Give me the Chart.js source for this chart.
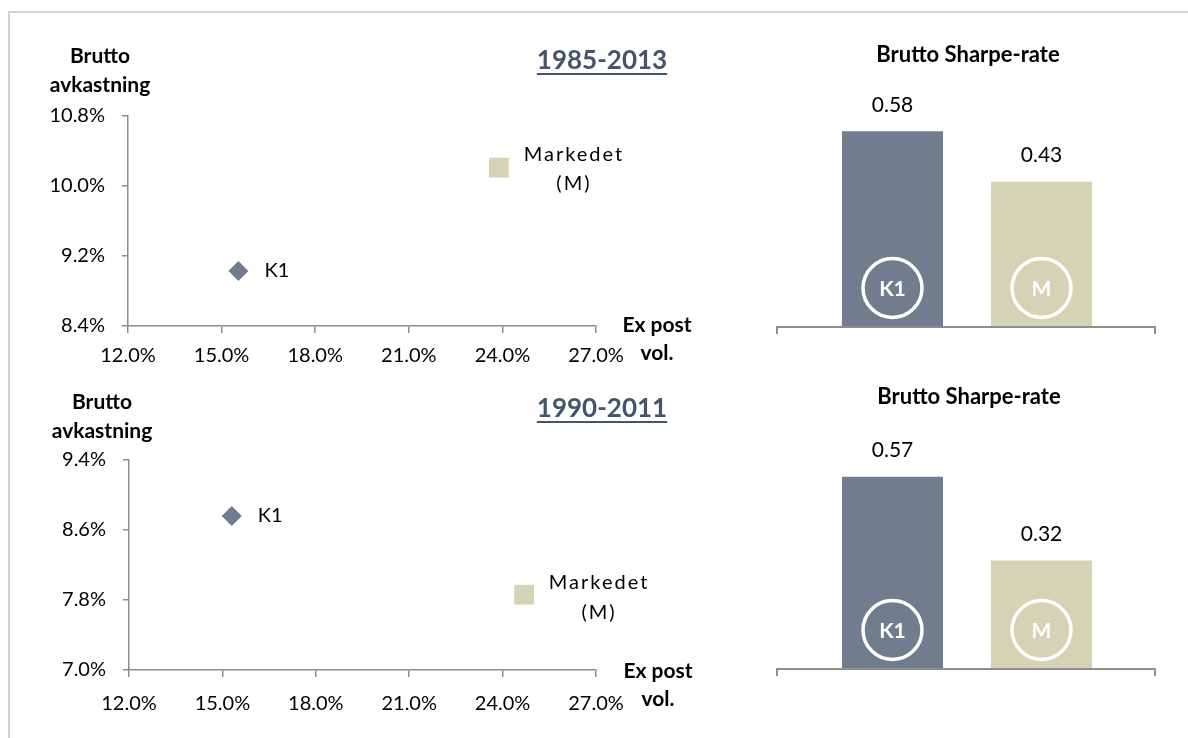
<!DOCTYPE html>
<html>
<head>
<meta charset="utf-8">
<script src="https://cdn.jsdelivr.net/npm/chart.js@4.4.0/dist/chart.umd.min.js"></script>
<style>
  html, body { margin: 0; padding: 0; background: #fff; }
  #wrap { position: relative; width: 1188px; height: 738px; overflow: hidden; }
  #frame { position: absolute; left: 8px; top: 11px; right: -4px; bottom: -4px;
           border-top: 2px solid #d2d2d2; border-left: 2px solid #d2d2d2; }
  canvas { position: absolute; }
</style>
</head>
<body>
<div id="wrap">
  <div id="frame"></div>
  <canvas id="scatter-top" width="720" height="370" style="left:0;top:0"></canvas>
  <canvas id="scatter-bottom" width="720" height="368" style="left:0;top:370px"></canvas>
  <canvas id="bar-top" width="448" height="370" style="left:740px;top:0"></canvas>
  <canvas id="bar-bottom" width="448" height="368" style="left:740px;top:370px"></canvas>
</div>
<script>
// data
const periods = ["1985-2013", "1990-2011"];
const k1Vol = [15.54, 15.30];
const k1Ret = [9.03, 8.76];
const mktVol = [23.89, 24.69];
const mktRet = [10.21, 7.86];
const retMin = [8.4, 7.0];
const retMax = [10.8, 9.4];
const volMin = 12, volMax = 27, volStep = 3, retStep = 0.8;
const k1Name = ["K1"];
const mktName = ["Markedet", "(M)"];
const sharpeLabels = ["K1", "M"];
const sharpeTop = [0.58, 0.43];
const sharpeBottom = [0.57, 0.32];

const K1_COLOR = "#717d8e";
const M_COLOR = "#d5d3b6";
const AXIS = "#8e8e8e";
const TITLE_COLOR = "#44546a";
const FONT = "Lato, Carlito, 'Open Sans', sans-serif";

Chart.defaults.font.family = FONT;
Chart.defaults.color = "#000";

const scatterText = {
  id: "scatterText",
  afterDraw(chart, args, o) {
    const ctx = chart.ctx;
    ctx.save();
    ctx.fillStyle = "#000";
    ctx.textBaseline = "middle";
    // point labels
    const k = chart.getDatasetMeta(0).data[0];
    ctx.font = "20px " + FONT;
    ctx.textAlign = "left";
    ctx.fillText(k1Name[0], k.x + 26, k.y);
    const m = chart.getDatasetMeta(1).data[0];
    ctx.textAlign = "center";
    ctx.letterSpacing = "2px";
    ctx.fillText(mktName[0], m.x + 75, m.y + o.mDy[0]);
    ctx.fillText(mktName[1], m.x + 75, m.y + o.mDy[1]);
    ctx.letterSpacing = "0px";
    // period title, underlined
    ctx.font = "bold 26px " + FONT;
    ctx.fillStyle = TITLE_COLOR;
    ctx.fillText(o.title, o.titleX, o.titleY);
    const w = ctx.measureText(o.title).width;
    ctx.fillRect(o.titleX - w / 2, o.titleY + 12, w, 2);
    // axis titles
    ctx.font = "bold 21px " + FONT;
    ctx.fillStyle = "#000";
    ctx.fillText("Brutto", o.yt[0], o.yt[1]);
    ctx.fillText("avkastning", o.yt[0], o.yt[1] + 29);
    ctx.fillText("Ex post", o.xt[0], o.xt[1]);
    ctx.fillText("vol.", o.xt[0], o.xt[1] + 28);
    ctx.restore();
  }
};

function scatterChart(id, i, frame) {
  return new Chart(document.getElementById(id), {
    type: "scatter",
    data: {
      datasets: [
        {
          label: k1Name.join(" "),
          data: [{ x: k1Vol[i], y: k1Ret[i] }],
          pointStyle: "rectRot",
          pointRadius: 10,
          backgroundColor: K1_COLOR,
          borderColor: K1_COLOR,
          borderWidth: 0,
        },
        {
          label: mktName.join(" "),
          data: [{ x: mktVol[i], y: mktRet[i] }],
          pointStyle: "rect",
          pointRadius: 14,
          backgroundColor: M_COLOR,
          borderColor: M_COLOR,
          borderWidth: 0,
        },
      ],
    },
    options: {
      responsive: false,
      animation: false,
      events: [],
      layout: { padding: { left: frame.left, right: frame.right, top: frame.top, bottom: 0 } },
      scales: {
        x: {
          type: "linear",
          min: volMin,
          max: volMax,
          ticks: {
            stepSize: volStep,
            maxRotation: 0,
            padding: frame.xPad,
            font: { size: 20 },
            callback: (v) => v.toFixed(1) + "%",
          },
          grid: { drawOnChartArea: false, tickLength: 7, color: AXIS, lineWidth: 1.5 },
          border: { color: AXIS, width: 1.5 },
          afterFit: (s) => { s.height = frame.xh; },
        },
        y: {
          min: retMin[i],
          max: retMax[i],
          ticks: {
            stepSize: retStep,
            padding: 17,
            font: { size: 20 },
            callback: (v) => v.toFixed(1) + "%",
          },
          grid: { drawOnChartArea: false, tickLength: 6, color: AXIS, lineWidth: 1.5 },
          border: { color: AXIS, width: 1.5 },
          afterFit: (s) => { s.width = 128; },
        },
      },
      plugins: {
        legend: { display: false },
        tooltip: { enabled: false },
        scatterText: frame.text,
      },
    },
    plugins: [scatterText],
  });
}

const barText = {
  id: "barText",
  afterDraw(chart, args, o) {
    const ctx = chart.ctx, a = chart.chartArea;
    const meta = chart.getDatasetMeta(0);
    const vals = chart.data.datasets[0].data;
    ctx.save();
    // category axis line with end ticks
    ctx.strokeStyle = AXIS;
    ctx.lineWidth = 2;
    ctx.beginPath();
    ctx.moveTo(a.left - 41, a.bottom + 8);
    ctx.lineTo(a.left - 41, a.bottom + 1);
    ctx.lineTo(a.right + 39, a.bottom + 1);
    ctx.lineTo(a.right + 39, a.bottom + 8);
    ctx.stroke();
    ctx.textAlign = "center";
    ctx.textBaseline = "middle";
    meta.data.forEach((bar, j) => {
      ctx.fillStyle = "#000";
      ctx.font = "21px " + FONT;
      ctx.fillText(vals[j].toFixed(2), bar.x, bar.y - 26);
      ctx.strokeStyle = "#fff";
      ctx.lineWidth = 3.5;
      ctx.beginPath();
      ctx.arc(bar.x, a.bottom - 38, 29.5, 0, Math.PI * 2);
      ctx.stroke();
      ctx.fillStyle = "#fff";
      ctx.font = "bold 21px " + FONT;
      ctx.fillText(chart.data.labels[j], bar.x, a.bottom - 37);
    });
    ctx.fillStyle = "#000";
    ctx.font = "bold 22px " + FONT;
    ctx.fillText("Brutto Sharpe-rate", o.titleX, o.titleY);
    ctx.restore();
  }
};

function barChart(id, values, frame) {
  return new Chart(document.getElementById(id), {
    type: "bar",
    data: {
      labels: sharpeLabels,
      datasets: [{
        data: values,
        backgroundColor: [K1_COLOR, M_COLOR],
        borderWidth: 0,
        barPercentage: 0.678,
        categoryPercentage: 1,
      }],
    },
    options: {
      responsive: false,
      animation: false,
      events: [],
      layout: { padding: { left: 78, right: 72, top: frame.top, bottom: frame.bottom } },
      scales: {
        x: { display: false },
        y: { display: false, min: 0, max: 0.7 },
      },
      plugins: {
        legend: { display: false },
        tooltip: { enabled: false },
        barText: { titleX: frame.titleX, titleY: frame.titleY },
      },
    },
    plugins: [barText],
  });
}

function draw() {
  scatterChart("scatter-top", 0, {
    left: 0, right: 124, top: 116, xh: 44, xPad: 11,
    text: { title: periods[0], titleX: 602, titleY: 61, yt: [100, 56], xt: [657, 325], mDy: [-13, 16] },
  });
  scatterChart("scatter-bottom", 1, {
    left: 1, right: 124, top: 90, xh: 68, xPad: 15,
    text: { title: periods[1], titleX: 602, titleY: 39, yt: [102, 32], xt: [658, 301], mDy: [-12, 18] },
  });
  barChart("bar-top", sharpeTop, { top: 91, bottom: 44, titleX: 228, titleY: 55 });
  barChart("bar-bottom", sharpeBottom, { top: 63, bottom: 70, titleX: 229, titleY: 27 });
}

Promise.all([
  document.fonts.load("20px Lato"),
  document.fonts.load("bold 20px Lato"),
]).then(draw, draw);
</script>
</body>
</html>
